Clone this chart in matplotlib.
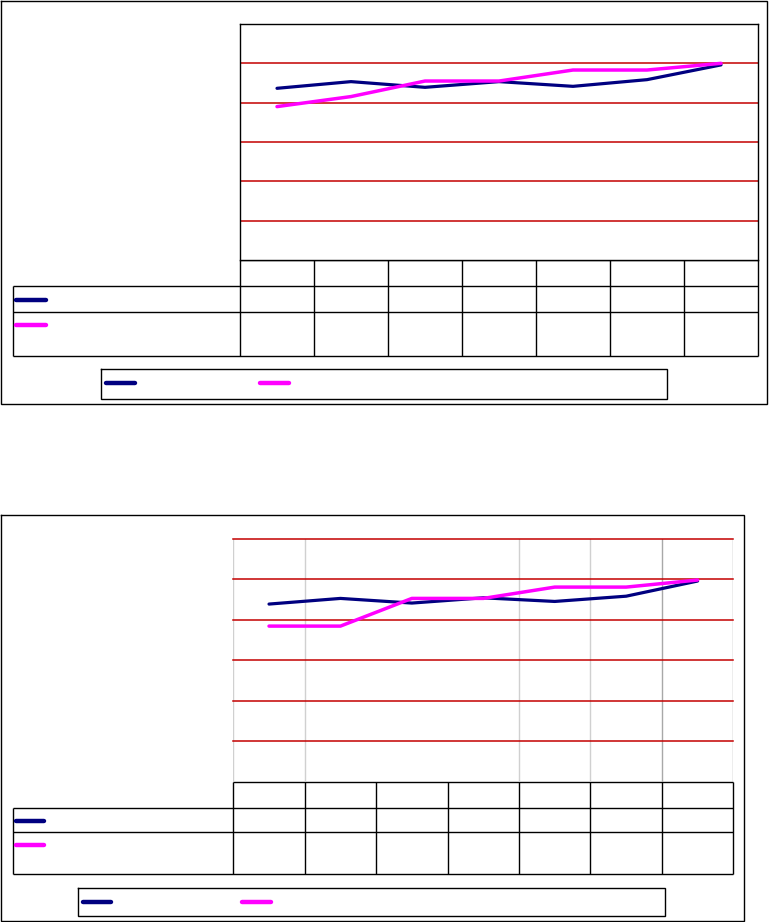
import matplotlib
matplotlib.use("Agg")
import matplotlib.pyplot as plt
import numpy as np

# ---- data (the reference carries no text) ----
categories = ["c1", "c2", "c3", "c4", "c5", "c6", "c7"]
top_navy = [87.3, 90.7, 87.8, 90.7, 88.3, 91.7, 99.2]
top_magenta = [78.0, 83.1, 91.0, 91.0, 96.6, 96.6, 100.0]
bot_navy = [87.8, 90.6, 88.3, 90.9, 89.1, 91.7, 99.2]
bot_magenta = [76.9, 76.9, 90.6, 90.6, 96.2, 96.2, 99.7]
y_max = 120
y_step = 20

NAVY = "#000080"
MAGENTA = "#FF00FF"
RED = "#C40000"

W, H = 769, 922
fig = plt.figure(figsize=(W / 100, H / 100), dpi=100)
bg = fig.add_axes([0, 0, 1, 1])
bg.set_xlim(0, W)
bg.set_ylim(H, 0)
bg.axis("off")

LW = 1.0


def hline(x0, x1, y, **kw):
    bg.plot([x0, x1], [y, y], color=kw.get("color", "black"), lw=kw.get("lw", LW),
            solid_capstyle="butt")


def vline(x, y0, y1, **kw):
    bg.plot([x, x], [y0, y1], color=kw.get("color", "black"), lw=kw.get("lw", LW),
            solid_capstyle="butt")


def rect(x0, y0, x1, y1, lw=LW):
    bg.plot([x0, x1, x1, x0, x0], [y0, y0, y1, y1, y0], color="black", lw=lw,
            solid_joinstyle="miter")


def key(x0, x1, y, color):
    bg.plot([x0, x1], [y, y], color=color, lw=3.2, solid_capstyle="round")


def data_axes(left, top, right, bottom):
    return fig.add_axes([left / W, 1 - bottom / H, (right - left) / W, (bottom - top) / H])


n = len(categories)
xs = np.arange(n)

# ================= TOP CHART =================
rect(1, 1, 767, 404)
PL, PT, PR, PB = 240, 24, 758, 260
ax1 = data_axes(PL, PT, PR, PB)
ax1.set_xlim(-0.5, n - 0.5)
ax1.set_ylim(0, y_max)
for v in range(y_step, y_max, y_step):
    ax1.axhline(v, color=RED, lw=1.1, zorder=1)
ax1.plot(xs, top_navy, color=NAVY, lw=2.3, solid_capstyle="round", zorder=3)
ax1.plot(xs, top_magenta, color=MAGENTA, lw=2.5, solid_capstyle="round", zorder=4)
ax1.set_xticks([])
ax1.set_yticks([])
for s in ax1.spines.values():
    s.set_color("black")
    s.set_linewidth(LW)

# table
colw = (PR - PL) / n
r0, r1, r2, r3 = 260, 286, 312, 356
TL = 13
hline(PL, PR, r0)
hline(TL, PR, r1)
hline(TL, PR, r2)
hline(TL, PR, r3)
vline(TL, r1, r3)
vline(PL, r0, r3)
vline(PR, r0, r3)
for k in range(1, n):
    vline(PL + k * colw, r0, r3)
key(16, 46, 300.5, NAVY)
key(16, 46, 325.5, MAGENTA)

# legend
rect(100.5, 369, 666.5, 399)
key(106, 135, 383.5, NAVY)
key(260, 289, 383.5, MAGENTA)

# ================= BOTTOM CHART =================
rect(0.5, 515, 743.5, 920.5)
QL, QT, QR, QB = 233.3, 539, 733.3, 781.5
ax2 = data_axes(QL, QT, QR, QB)
ax2.set_xlim(-0.5, n - 0.5)
ax2.set_ylim(0, y_max)
ax2.patch.set_alpha(0)
for s in ax2.spines.values():
    s.set_visible(False)
ax2.set_xticks([])
ax2.set_yticks([])
for xv in [-0.5, 0.5, 3.5, 4.5]:
    ax2.axvline(xv, color="#D0D0D0", lw=1.0, zorder=1)
ax2.axvline(5.5, color="#A8A8A8", lw=1.0, zorder=1)
ax2.axvline(6.5, color="#A8A8A8", lw=1.0, zorder=1)
for v in range(y_step, y_max + 1, y_step):
    ax2.axhline(v, color=RED, lw=1.1, zorder=2, clip_on=False)
ax2.plot(xs, bot_navy, color=NAVY, lw=2.3, solid_capstyle="round", zorder=3)
ax2.plot(xs, bot_magenta, color=MAGENTA, lw=2.5, solid_capstyle="round", zorder=4)

colw2 = (QR - QL) / n
s0, s1, s2, s3 = 781.5, 807.5, 832.3, 874.3
hline(QL, QR, s0)
hline(TL, QR, s1)
hline(TL, QR, s2)
hline(TL, QR, s3)
vline(TL, s1, s3)
vline(QL, s0, s3)
vline(QR, s0, s3)
for k in range(1, n):
    vline(QL + k * colw2, s0, s3)
key(16, 44, 821, NAVY)
key(16, 44, 845.3, MAGENTA)

rect(77.5, 887.7, 665, 916.3)
key(83, 111, 901.7, NAVY)
key(242, 271, 901.7, MAGENTA)

fig.savefig("out.png", dpi=100)
